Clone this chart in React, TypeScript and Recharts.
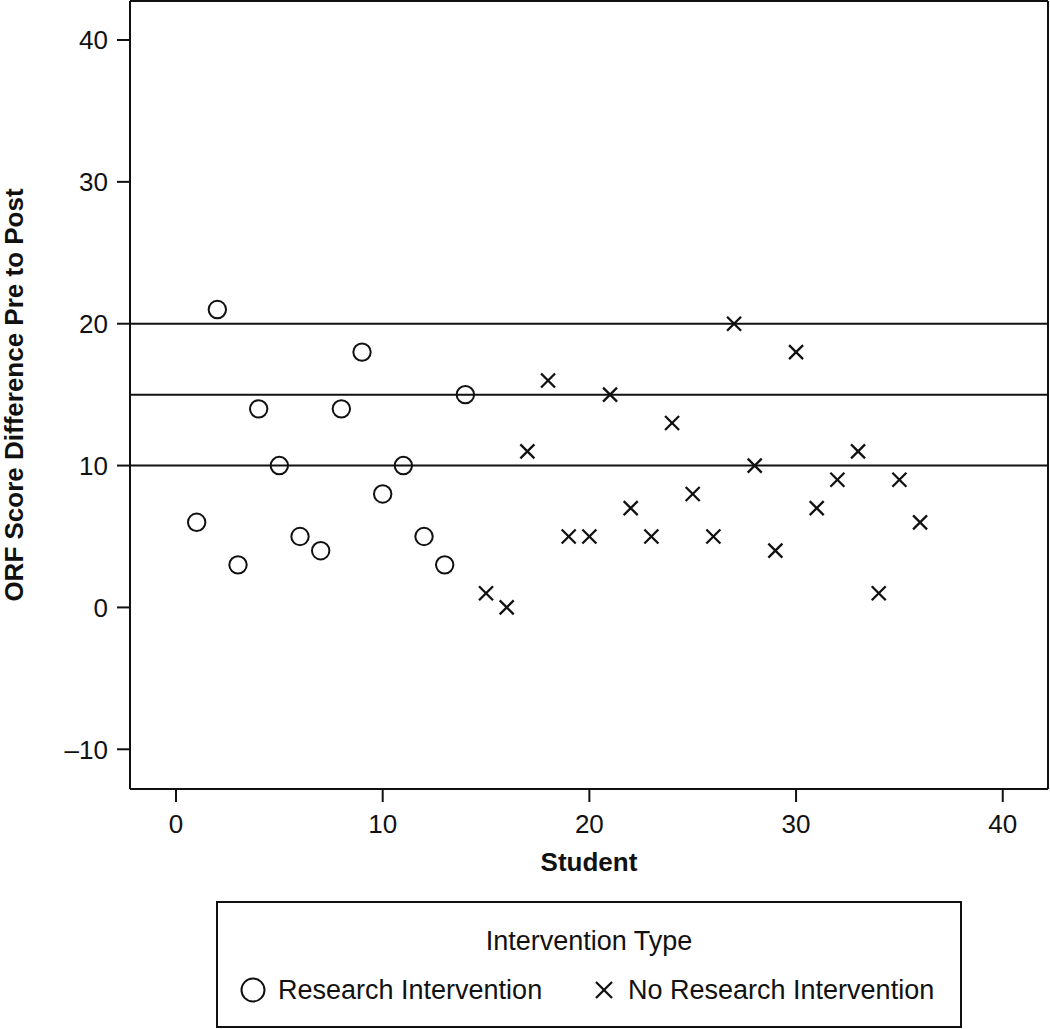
import React from 'react';
import { ScatterChart, Scatter, XAxis, YAxis, ReferenceLine } from 'recharts';

const researchStudents = [1, 2, 3, 4, 5, 6, 7, 8, 9, 10, 11, 12, 13, 14];
const researchScores = [6, 21, 3, 14, 10, 5, 4, 14, 18, 8, 10, 5, 3, 15];
const noResearchStudents = [15, 16, 17, 18, 19, 20, 21, 22, 23, 24, 25, 26, 27, 28, 29, 30, 31, 32, 33, 34, 35, 36];
const noResearchScores = [1, 0, 11, 16, 5, 5, 15, 7, 5, 13, 8, 5, 20, 10, 4, 18, 7, 9, 11, 1, 9, 6];
const xTicks = [0, 10, 20, 30, 40];
const yTicks = [-10, 0, 10, 20, 30, 40];
const benchmarkLines = [10, 15, 20];
const seriesNames = ['Research Intervention', 'No Research Intervention'];

const researchData = researchStudents.map((s, i) => ({ student: s, score: researchScores[i] }));
const noResearchData = noResearchStudents.map((s, i) => ({ student: s, score: noResearchScores[i] }));

const X_DOMAIN: [number, number] = [-2.226, 42.19];
const Y_DOMAIN: [number, number] = [-12.8, 42.75];
const FONT = '"Liberation Sans", Arial, Helvetica, sans-serif';

const CircleShape = (props: any) => {
  const { cx, cy } = props;
  if (cx == null || cy == null) return null;
  return <circle cx={cx} cy={cy} r={8.7} fill="none" stroke="#111" strokeWidth={2} />;
};

const CrossShape = (props: any) => {
  const { cx, cy } = props;
  if (cx == null || cy == null) return null;
  const h = 7;
  return (
    <g stroke="#111" strokeWidth={2.3}>
      <line x1={cx - h} y1={cy - h} x2={cx + h} y2={cy + h} />
      <line x1={cx - h} y1={cy + h} x2={cx + h} y2={cy - h} />
    </g>
  );
};

const fmtY = (v: number) => (v < 0 ? '\u2013' + Math.abs(v) : String(v));

export default function App() {
  return (
    <div style={{ position: 'absolute', left: 0, top: 0, width: 1050, height: 1029, background: '#fff', fontFamily: FONT }}>
      <ScatterChart width={1050} height={1029} margin={{ top: 1, right: 2, left: 0, bottom: 0 }}>
        <XAxis
          type="number"
          dataKey="student"
          domain={X_DOMAIN}
          allowDataOverflow
          ticks={xTicks}
          height={240}
          tickSize={13}
          tickMargin={13}
          axisLine={{ stroke: '#111', strokeWidth: 2 }}
          tickLine={{ stroke: '#111', strokeWidth: 2 }}
          tick={{ fill: '#111', fontSize: 26, fontFamily: FONT }}
          label={{
            content: (p: any) => {
              const vb = p.viewBox;
              return (
                <text x={vb.x + vb.width / 2} y={vb.y + 82} textAnchor="middle" fontSize={26} fontWeight="bold" fontFamily={FONT} fill="#111">
                  Student
                </text>
              );
            },
          }}
        />
        <YAxis
          type="number"
          dataKey="score"
          domain={Y_DOMAIN}
          allowDataOverflow
          ticks={yTicks}
          width={130}
          tickSize={13}
          tickMargin={9}
          tickFormatter={fmtY}
          axisLine={{ stroke: '#111', strokeWidth: 2 }}
          tickLine={{ stroke: '#111', strokeWidth: 2 }}
          tick={{ fill: '#111', fontSize: 26, fontFamily: FONT }}
          label={{
            content: (p: any) => {
              const vb = p.viewBox;
              const cx = vb.x + 23;
              const cy = vb.y + vb.height / 2;
              return (
                <text x={cx} y={cy} transform={`rotate(-90 ${cx} ${cy})`} textAnchor="middle" fontSize={26} fontWeight="bold" fontFamily={FONT} fill="#111">
                  ORF Score Difference Pre to Post
                </text>
              );
            },
          }}
        />
        <ReferenceLine y={Y_DOMAIN[1]} stroke="#111" strokeWidth={2} ifOverflow="extendDomain" />
        <ReferenceLine x={X_DOMAIN[1]} stroke="#111" strokeWidth={2} ifOverflow="extendDomain" />
        {benchmarkLines.map((v) => (
          <ReferenceLine key={v} y={v} stroke="#111" strokeWidth={2} />
        ))}
        <Scatter name={seriesNames[0]} data={researchData} shape={CircleShape} isAnimationActive={false} />
        <Scatter name={seriesNames[1]} data={noResearchData} shape={CrossShape} isAnimationActive={false} />
      </ScatterChart>
      <svg style={{ position: 'absolute', left: 216, top: 901 }} width={746} height={127}>
        <rect x={1} y={1} width={744} height={125} fill="#fff" stroke="#111" strokeWidth={2} />
        <text x={373} y={49} textAnchor="middle" fontSize={27} fontFamily={FONT} fill="#111">Intervention Type</text>
        <circle cx={37} cy={89} r={11.5} fill="none" stroke="#111" strokeWidth={2} />
        <text x={62} y={98} fontSize={27} fontFamily={FONT} fill="#111">{seriesNames[0]}</text>
        <g stroke="#111" strokeWidth={2.3}>
          <line x1={388 - 8} y1={89 - 8} x2={388 + 8} y2={89 + 8} />
          <line x1={388 - 8} y1={89 + 8} x2={388 + 8} y2={89 - 8} />
        </g>
        <text x={412} y={98} fontSize={27} fontFamily={FONT} fill="#111">{seriesNames[1]}</text>
      </svg>
    </div>
  );
}
